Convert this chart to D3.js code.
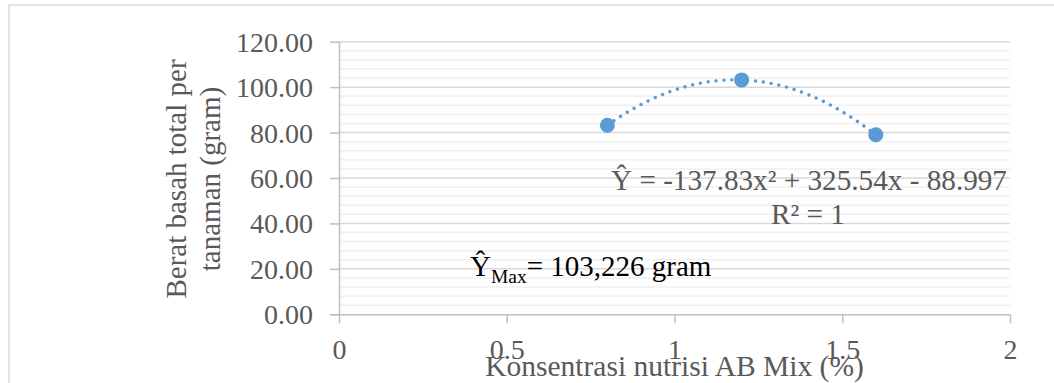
<!DOCTYPE html>
<html>
<head>
<meta charset="utf-8">
<script src="https://cdn.jsdelivr.net/npm/d3@7"></script>
<style>
  html, body { margin: 0; padding: 0; background: #fff; }
  svg { display: block; font-family: "Liberation Serif", "Times New Roman", serif; }
</style>
</head>
<body>
<div id="chart"></div>
<script>
// nutrient concentration (%) vs fresh weight per plant (gram)
const concentration = [0.8, 1.2, 1.6];
const freshWeight = [83.22, 103.18, 79.02];

const xTickValues = [0, 0.5, 1, 1.5, 2];
const xTickLabels = ["0", "0.5", "1", "1.5", "2"];
const yTickValues = [0, 20, 40, 60, 80, 100, 120];
const yTickLabels = ["0.00", "20.00", "40.00", "60.00", "80.00", "100.00", "120.00"];

const yTitleLines = ["Berat basah total per", "tanaman (gram)"];
const xTitle = "Konsentrasi nutrisi AB Mix (%)";
const equationText = "Ŷ = -137.83x² + 325.54x - 88.997";
const r2Text = "R² = 1";
const maxText = ["Ŷ", "Max", "= 103,226 gram"];

const W = 1054, H = 383;
const plot = { left: 339, right: 1010, top: 41.7, bottom: 314.3 };
const blue = "#5B9BD5", textCol = "#595959";

const svg = d3.select("#chart").append("svg")
    .attr("width", W)
    .attr("height", H);

svg.append("rect")
    .attr("x", 9).attr("y", 5)
    .attr("width", W + 20).attr("height", H + 20)
    .attr("fill", "#fff")
    .attr("stroke", "#d9d9d9")
    .attr("stroke-width", 1.5);

const x = d3.scaleLinear().domain([0, 2]).range([plot.left, plot.right]);
const y = d3.scaleLinear().domain([0, 120]).range([plot.bottom, plot.top]);

// minor gridlines every 4, major every 20
const minor = d3.range(0, 121, 4).filter(v => v % 20 !== 0);
svg.append("g").selectAll("line").data(minor).enter().append("line")
    .attr("x1", plot.left).attr("x2", plot.right)
    .attr("y1", d => y(d)).attr("y2", d => y(d))
    .attr("stroke", "#f0f0f0").attr("stroke-width", 1.5);
svg.append("g").selectAll("line").data(yTickValues.filter(v => v > 0)).enter().append("line")
    .attr("x1", plot.left).attr("x2", plot.right)
    .attr("y1", d => y(d)).attr("y2", d => y(d))
    .attr("stroke", "#d9d9d9").attr("stroke-width", 1.5);

// axes
const yAxis = d3.axisLeft(y).tickValues(yTickValues)
    .tickFormat((d, i) => yTickLabels[i]).tickSizeInner(9).tickSizeOuter(0).tickPadding(17);
const xAxis = d3.axisBottom(x).tickValues(xTickValues)
    .tickFormat((d, i) => xTickLabels[i]).tickSizeInner(9).tickSizeOuter(0).tickPadding(16);

const gy = svg.append("g").attr("transform", `translate(${plot.left},0)`).call(yAxis);
const gx = svg.append("g").attr("transform", `translate(0,${plot.bottom})`).call(xAxis);
[gx, gy].forEach(g => {
    g.selectAll("path, line").attr("stroke", "#bfbfbf").attr("stroke-width", 1.5);
    g.selectAll("text").attr("fill", textCol).attr("font-size", 28)
        .style("font-family", "'Liberation Serif', serif");
});
gy.selectAll("text").attr("dy", "0.34em");
gx.select(".domain").attr("d", `M${plot.left - 9},0.5H${plot.right}`);
gy.select(".domain").attr("d", `M0.5,${plot.top}V${plot.bottom}`);

// polynomial (order 2) trendline fitted to the data by least squares
function polyFit(xs, ys, order) {
    const n = order + 1;
    const A = d3.range(n).map(i => d3.range(n).map(j => d3.sum(xs, v => Math.pow(v, i + j))));
    const b = d3.range(n).map(i => d3.sum(xs, (v, k) => Math.pow(v, i) * ys[k]));
    for (let c = 0; c < n; c++) {
        let p = c;
        for (let r = c + 1; r < n; r++) if (Math.abs(A[r][c]) > Math.abs(A[p][c])) p = r;
        [A[c], A[p]] = [A[p], A[c]]; [b[c], b[p]] = [b[p], b[c]];
        for (let r = c + 1; r < n; r++) {
            const f = A[r][c] / A[c][c];
            for (let k = c; k < n; k++) A[r][k] -= f * A[c][k];
            b[r] -= f * b[c];
        }
    }
    const coef = new Array(n).fill(0);
    for (let r = n - 1; r >= 0; r--) {
        let s = b[r];
        for (let k = r + 1; k < n; k++) s -= A[r][k] * coef[k];
        coef[r] = s / A[r][r];
    }
    return coef;
}
const coef = polyFit(concentration, freshWeight, 2);
const [x0, x1] = d3.extent(concentration);
const trend = d3.range(0, 81).map(i => {
    const xv = x0 + (x1 - x0) * i / 80;
    return [xv, coef[0] + coef[1] * xv + coef[2] * xv * xv];
});

svg.append("path")
    .datum(trend)
    .attr("fill", "none")
    .attr("stroke", blue)
    .attr("stroke-width", 3.4)
    .attr("stroke-linecap", "round")
    .attr("stroke-dasharray", "0.01 7.9")
    .attr("d", d3.line().x(d => x(d[0])).y(d => y(d[1])));

svg.append("g").selectAll("circle")
    .data(concentration.map((c, i) => [c, freshWeight[i]]))
    .enter().append("circle")
    .attr("cx", d => x(d[0])).attr("cy", d => y(d[1]))
    .attr("r", 7.5)
    .attr("fill", blue);

// titles
const yt = svg.append("text")
    .attr("transform", "translate(186,179) rotate(-90)")
    .attr("text-anchor", "middle")
    .attr("fill", textCol).attr("font-size", 29);
yt.append("tspan").attr("x", 0).attr("y", 0).text(yTitleLines[0]);
yt.append("tspan").attr("x", 0).attr("y", 34).text(yTitleLines[1]);

svg.append("text")
    .attr("x", (plot.left + plot.right) / 2).attr("y", 376)
    .attr("text-anchor", "middle")
    .attr("fill", textCol).attr("font-size", 29.5)
    .text(xTitle);

// trendline annotation
svg.append("text")
    .attr("x", 611).attr("y", 190)
    .attr("fill", textCol).attr("font-size", 29.2)
    .text(equationText);
svg.append("text")
    .attr("x", 808).attr("y", 224)
    .attr("text-anchor", "middle")
    .attr("fill", textCol).attr("font-size", 29.2)
    .text(r2Text);

const mt = svg.append("text")
    .attr("x", 470).attr("y", 276)
    .attr("fill", "#000").attr("font-size", 29);
mt.append("tspan").text(maxText[0]);
mt.append("tspan").attr("dy", 7).attr("font-size", 19.5).text(maxText[1]);
mt.append("tspan").attr("dy", -7).text(maxText[2]);
</script>
</body>
</html>
